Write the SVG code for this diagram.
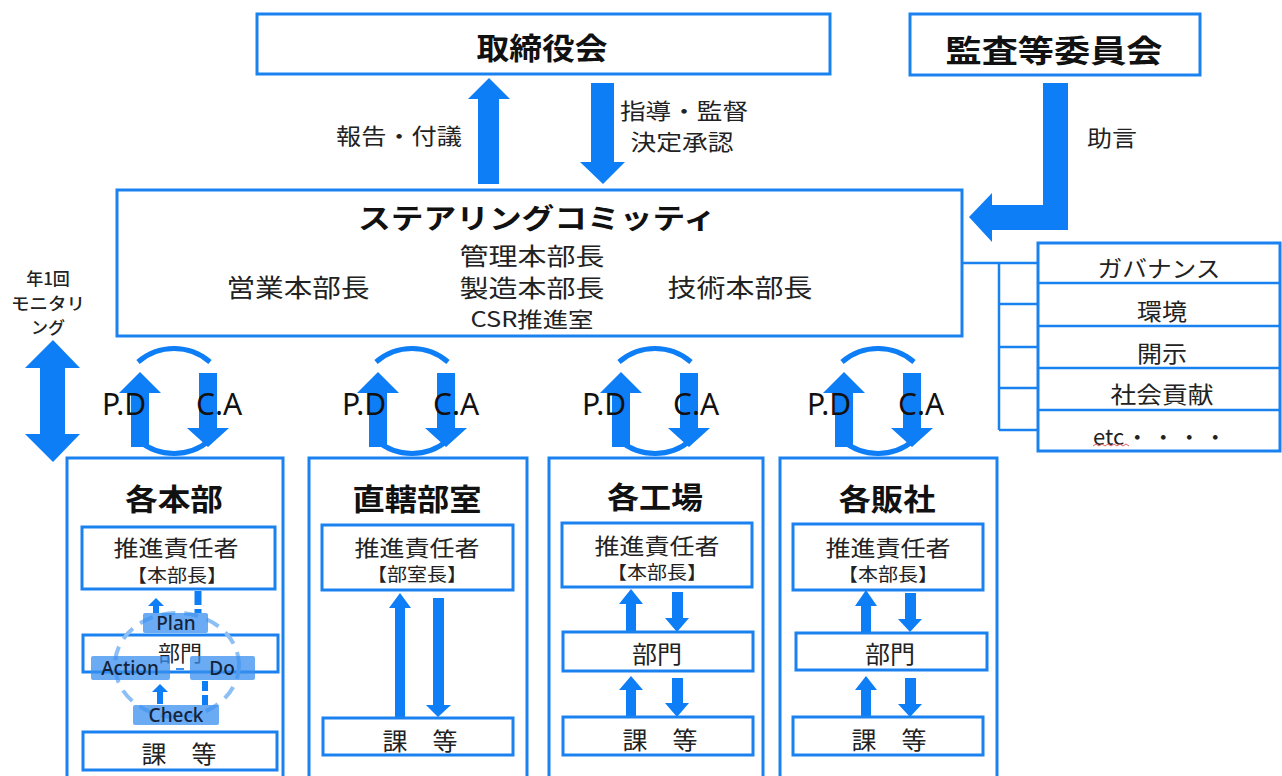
<svg xmlns="http://www.w3.org/2000/svg" width="1282" height="776" viewBox="0 0 1282 776">
<defs>
<style>
.box{fill:#fff;stroke:#1a82f0;stroke-width:3}
.ln{fill:none;stroke:#1a82f0;stroke-width:2.5}
.arw{fill:#0d7ef6}
.arc{fill:none;stroke:#0d7ef6;stroke-width:5}
.t{font-family:"Noto Sans CJK JP","Noto Sans",sans-serif;fill:#222;text-anchor:middle;dominant-baseline:central}
.b{font-weight:700;fill:#111}
.pd{font-family:"Noto Sans","Noto Sans CJK JP",sans-serif;font-size:30px;fill:#111}
.lab{fill:#3a8ff0;opacity:0.75}
.lt{font-family:"Noto Sans","Noto Sans CJK JP",sans-serif;font-size:19px;font-weight:500;fill:#14233a;text-anchor:middle;dominant-baseline:central}
</style>
</defs>
<rect width="1282" height="776" fill="#fff"/>

<g id="board">
<rect class="box" x="257" y="14" width="573" height="60"/>
<text class="t b" x="542" y="46" font-size="30" textLength="131" lengthAdjust="spacingAndGlyphs">取締役会</text>
</g>

<g id="audit">
<rect class="box" x="910" y="14" width="290" height="61"/>
<text class="t b" x="1054" y="48" font-size="31" textLength="217" lengthAdjust="spacingAndGlyphs">監査等委員会</text>
</g>

<g id="steering">
<rect class="box" x="117" y="190" width="845" height="146"/>
<text class="t b" x="537" y="217" font-size="28" textLength="358" lengthAdjust="spacingAndGlyphs">ステアリングコミッティ</text>
<text class="t" x="532" y="254" font-size="24" textLength="145" lengthAdjust="spacingAndGlyphs">管理本部長</text>
<text class="t" x="298" y="286" font-size="25" textLength="143" lengthAdjust="spacingAndGlyphs">営業本部長</text>
<text class="t" x="532" y="286" font-size="24" textLength="145" lengthAdjust="spacingAndGlyphs">製造本部長</text>
<text class="t" x="740" y="286" font-size="25" textLength="145" lengthAdjust="spacingAndGlyphs">技術本部長</text>
<text class="t" x="532" y="318" font-size="21" textLength="123" lengthAdjust="spacingAndGlyphs">CSR推進室</text>
</g>

<g id="themes">
<rect class="box" x="1038" y="243" width="242" height="208"/>
<line class="ln" x1="1038" y1="283" x2="1280" y2="283"/>
<line class="ln" x1="1038" y1="326" x2="1280" y2="326"/>
<line class="ln" x1="1038" y1="368" x2="1280" y2="368"/>
<line class="ln" x1="1038" y1="410" x2="1280" y2="410"/>
<text class="t" x="1159" y="267" font-size="23" textLength="123" lengthAdjust="spacingAndGlyphs">ガバナンス</text>
<text class="t" x="1162" y="310" font-size="23" textLength="50" lengthAdjust="spacingAndGlyphs">環境</text>
<text class="t" x="1162" y="352" font-size="23" textLength="50" lengthAdjust="spacingAndGlyphs">開示</text>
<text class="t" x="1162" y="393" font-size="23" textLength="103" lengthAdjust="spacingAndGlyphs">社会貢献</text>
<text class="t" x="1093" y="435" font-size="22" style="text-anchor:start">etc<tspan dx="2" letter-spacing="4">・・・・</tspan></text>
<path d="M1093,446 l3,-2 l3,2 l3,-2 l3,2 l3,-2 l3,2 l3,-2 l3,2 l3,-2 l3,2 l3,-2 l3,2" fill="none" stroke="#e06060" stroke-width="1"/>
</g>

<g id="monitoring">
<text class="t" x="48" y="277" font-size="17" font-weight="500">年1回</text>
<text class="t" x="48" y="302" font-size="17" font-weight="500" textLength="74" lengthAdjust="spacingAndGlyphs">モニタリ</text>
<text class="t" x="48" y="326" font-size="17" font-weight="500">ング</text>
</g>

<g id="connectors">
<polygon class="arw" points="489,78 510,99 499,99 499,184 478,184 478,99 468,99"/>
<polygon class="arw" points="591,83 614,83 614,162 625,162 603,184 580,162 591,162"/>
<text class="t" x="399" y="134" font-size="22" textLength="126" lengthAdjust="spacingAndGlyphs">報告・付議</text>
<text class="t" x="684" y="109" font-size="22" textLength="128" lengthAdjust="spacingAndGlyphs">指導・監督</text>
<text class="t" x="682" y="140" font-size="22" textLength="103" lengthAdjust="spacingAndGlyphs">決定承認</text>
<polygon class="arw" points="1043,83 1068,83 1068,230 992,230 992,242 969,217 992,193 992,205 1043,205"/>
<text class="t" x="1112" y="136" font-size="22" textLength="50" lengthAdjust="spacingAndGlyphs">助言</text>
<polygon class="arw" points="53,340 80,368 65,368 65,434 80,434 53,462 25,434 40,434 40,368 25,368"/>
<polyline class="ln" points="962,263 1038,263"/>
<line class="ln" x1="999" y1="263" x2="999" y2="430"/>
<line class="ln" x1="999" y1="304" x2="1038" y2="304"/>
<line class="ln" x1="999" y1="347" x2="1038" y2="347"/>
<line class="ln" x1="999" y1="388" x2="1038" y2="388"/>
<line class="ln" x1="999" y1="430" x2="1038" y2="430"/>

<g id="pdca1" transform="translate(140,0)">
<path class="arc" d="M-2,362 A55,55 0 0 1 70,362"/>
<path class="arc" d="M70,440 A55,55 0 0 1 -2,440"/>
<polygon class="arw" points="0,372 21,393 9,393 9,447 -9,447 -9,393 -21,393"/>
<polygon class="arw" points="59,373 77,373 77,428 89,428 68,447 47,428 59,428"/>
<text class="pd" x="-38" y="415">P.D</text>
<text class="pd" x="56" y="415">C.A</text>
</g>
<g id="pdca2" transform="translate(378,0)">
<path class="arc" d="M-2,362 A55,55 0 0 1 70,362"/>
<path class="arc" d="M70,440 A55,55 0 0 1 -2,440"/>
<polygon class="arw" points="0,372 21,393 9,393 9,447 -9,447 -9,393 -21,393"/>
<polygon class="arw" points="59,373 77,373 77,428 89,428 68,447 47,428 59,428"/>
<text class="pd" x="-36" y="415">P.D</text>
<text class="pd" x="55" y="415">C.A</text>
</g>
<g id="pdca3" transform="translate(621,0)">
<path class="arc" d="M-2,362 A55,55 0 0 1 70,362"/>
<path class="arc" d="M70,440 A55,55 0 0 1 -2,440"/>
<polygon class="arw" points="0,372 21,393 9,393 9,447 -9,447 -9,393 -21,393"/>
<polygon class="arw" points="59,373 77,373 77,428 89,428 68,447 47,428 59,428"/>
<text class="pd" x="-39" y="415">P.D</text>
<text class="pd" x="52" y="415">C.A</text>
</g>
<g id="pdca4" transform="translate(844,0)">
<path class="arc" d="M-2,362 A55,55 0 0 1 70,362"/>
<path class="arc" d="M70,440 A55,55 0 0 1 -2,440"/>
<polygon class="arw" points="0,372 21,393 9,393 9,447 -9,447 -9,393 -21,393"/>
<polygon class="arw" points="59,373 77,373 77,428 89,428 68,447 47,428 59,428"/>
<text class="pd" x="-37" y="415">P.D</text>
<text class="pd" x="54" y="415">C.A</text>
</g>
</g>

<g id="honbu">
<rect class="box" x="67" y="458" width="216" height="330"/>
<text class="t b" x="174" y="497" font-size="30" textLength="98" lengthAdjust="spacingAndGlyphs">各本部</text>
<rect class="box" x="82" y="527" width="193" height="62"/>
<text class="t" x="176" y="546" font-size="22" textLength="125" lengthAdjust="spacingAndGlyphs">推進責任者</text>
<text class="t" x="177" y="574" font-size="18" textLength="100" lengthAdjust="spacingAndGlyphs">【本部長】</text>
<rect class="box" x="83" y="635" width="195" height="37"/>
<text class="t" x="180" y="651" font-size="22">部門</text>
<ellipse cx="177" cy="665" rx="62" ry="52" fill="none" stroke="#8bbff5" stroke-width="4" stroke-dasharray="14 9"/>
<polygon class="arw" points="156,598 164,606 159,606 159,613 153,613 153,606 148,606"/>
<line x1="198" y1="591" x2="198" y2="613" stroke="#0d7ef6" stroke-width="7" stroke-dasharray="14 4"/>
<polygon class="arw" points="160,684 168,692 163,692 163,704 157,704 157,692 152,692"/>
<line x1="205" y1="681" x2="205" y2="705" stroke="#0d7ef6" stroke-width="6" stroke-dasharray="10 4"/>
<line x1="176" y1="669" x2="184" y2="669" stroke="#3a8ff0" stroke-width="2"/>
<rect class="lab" x="143" y="613" width="65" height="20" rx="2"/>
<rect class="lab" x="91" y="656" width="79" height="24" rx="2"/>
<rect class="lab" x="190" y="656" width="65" height="24" rx="2"/>
<rect class="lab" x="133" y="705" width="86" height="20" rx="2"/>
<text class="lt" x="176" y="623">Plan</text>
<text class="lt" x="130" y="668">Action</text>
<text class="lt" x="222" y="668">Do</text>
<text class="lt" x="176" y="715">Check</text>
<rect class="box" x="83" y="732" width="194" height="38"/>
<text class="t" x="179" y="752" font-size="24" textLength="75" lengthAdjust="spacingAndGlyphs">課　等</text>
</g>

<g id="chokkatsu">
<rect class="box" x="309" y="458" width="218" height="330"/>
<text class="t b" x="417" y="497" font-size="30" textLength="129" lengthAdjust="spacingAndGlyphs">直轄部室</text>
<rect class="box" x="322" y="525" width="191" height="65"/>
<text class="t" x="417" y="546" font-size="22" textLength="125" lengthAdjust="spacingAndGlyphs">推進責任者</text>
<text class="t" x="417" y="573" font-size="18" textLength="100" lengthAdjust="spacingAndGlyphs">【部室長】</text>
<polygon class="arw" points="400,593 411,608 405,608 405,717 395,717 395,608 389,608"/>
<polygon class="arw" points="433,598 444,598 444,705 451,705 438,717 426,705 433,705"/>
<rect class="box" x="323" y="718" width="190" height="37"/>
<text class="t" x="420" y="739" font-size="24" textLength="75" lengthAdjust="spacingAndGlyphs">課　等</text>
</g>

<g id="kojo">
<rect class="box" x="549" y="458" width="214" height="330"/>
<text class="t b" x="655" y="495" font-size="30" textLength="96" lengthAdjust="spacingAndGlyphs">各工場</text>
<rect class="box" x="562" y="523" width="190" height="64"/>
<text class="t" x="657" y="544" font-size="22" textLength="125" lengthAdjust="spacingAndGlyphs">推進責任者</text>
<text class="t" x="657" y="571" font-size="18" textLength="100" lengthAdjust="spacingAndGlyphs">【本部長】</text>
<polygon class="arw" points="631,589 643,604 636,604 636,631 626,631 626,604 619,604"/>
<polygon class="arw" points="672,592 683,592 683,618 689,618 677,632 665,618 672,618"/>
<rect class="box" x="563" y="632" width="190" height="39"/>
<text class="t" x="657" y="652" font-size="24" textLength="50" lengthAdjust="spacingAndGlyphs">部門</text>
<polygon class="arw" points="631,676 643,690 636,690 636,716 626,716 626,690 619,690"/>
<polygon class="arw" points="672,678 683,678 683,703 689,703 677,717 665,703 672,703"/>
<rect class="box" x="563" y="717" width="190" height="38"/>
<text class="t" x="660" y="738" font-size="24" textLength="75" lengthAdjust="spacingAndGlyphs">課　等</text>
</g>

<g id="hansha">
<rect class="box" x="780" y="458" width="217" height="330"/>
<text class="t b" x="887" y="497" font-size="30" textLength="97" lengthAdjust="spacingAndGlyphs">各販社</text>
<rect class="box" x="793" y="524" width="190" height="66"/>
<text class="t" x="888" y="546" font-size="22" textLength="125" lengthAdjust="spacingAndGlyphs">推進責任者</text>
<text class="t" x="888" y="573" font-size="18" textLength="100" lengthAdjust="spacingAndGlyphs">【本部長】</text>
<polygon class="arw" points="866,590 877,606 871,606 871,632 861,632 861,606 855,606"/>
<polygon class="arw" points="905,593 916,593 916,619 922,619 910,632 898,619 905,619"/>
<rect class="box" x="796" y="633" width="191" height="37"/>
<text class="t" x="890" y="652" font-size="24" textLength="50" lengthAdjust="spacingAndGlyphs">部門</text>
<polygon class="arw" points="866,676 877,690 871,690 871,717 861,717 861,690 855,690"/>
<polygon class="arw" points="905,678 916,678 916,704 922,704 910,717 898,704 905,704"/>
<rect class="box" x="793" y="717" width="190" height="38"/>
<text class="t" x="889" y="738" font-size="24" textLength="75" lengthAdjust="spacingAndGlyphs">課　等</text>
</g>
</svg>
